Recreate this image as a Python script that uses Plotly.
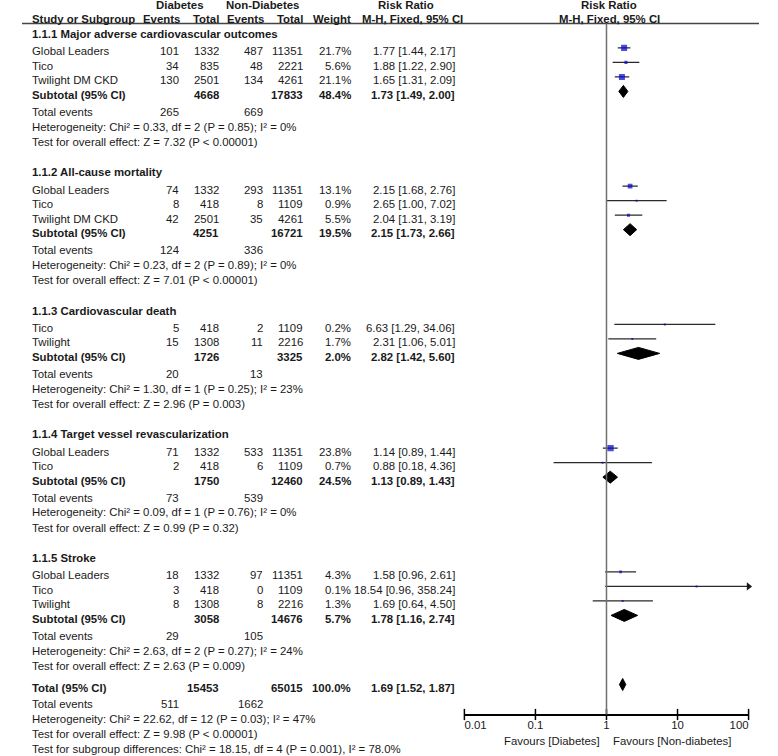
import plotly.graph_objects as go

# ---------------- data ----------------
group_titles = [
    "1.1.1 Major adverse cardiovascular outcomes",
    "1.1.2 All-cause mortality",
    "1.1.3 Cardiovascular death",
    "1.1.4 Target vessel revascularization",
    "1.1.5 Stroke",
]
study_group = [0, 0, 0, 1, 1, 1, 2, 2, 3, 3, 4, 4, 4]
study_names = ["Global Leaders", "Tico", "Twilight DM CKD",
               "Global Leaders", "Tico", "Twilight DM CKD",
               "Tico", "Twilight",
               "Global Leaders", "Tico",
               "Global Leaders", "Tico", "Twilight"]
dia_events = [101, 34, 130, 74, 8, 42, 5, 15, 71, 2, 18, 3, 8]
dia_total = [1332, 835, 2501, 1332, 418, 2501, 418, 1308, 1332, 418, 1332, 418, 1308]
non_events = [487, 48, 134, 293, 8, 35, 2, 11, 533, 6, 97, 0, 8]
non_total = [11351, 2221, 4261, 11351, 1109, 4261, 1109, 2216, 11351, 1109, 11351, 1109, 2216]
weights = [21.7, 5.6, 21.1, 13.1, 0.9, 5.5, 0.2, 1.7, 23.8, 0.7, 4.3, 0.1, 1.3]
rr = [1.77, 1.88, 1.65, 2.15, 2.65, 2.04, 6.63, 2.31, 1.14, 0.88, 1.58, 18.54, 1.69]
rr_lo = [1.44, 1.22, 1.31, 1.68, 1.00, 1.31, 1.29, 1.06, 0.89, 0.18, 0.96, 0.96, 0.64]
rr_hi = [2.17, 2.90, 2.09, 2.76, 7.02, 3.19, 34.06, 5.01, 1.44, 4.36, 2.61, 358.24, 4.50]

sub_dia_total = [4668, 4251, 1726, 1750, 3058]
sub_non_total = [17833, 16721, 3325, 12460, 14676]
sub_weight = [48.4, 19.5, 2.0, 24.5, 5.7]
sub_rr = [1.73, 2.15, 2.82, 1.13, 1.78]
sub_lo = [1.49, 1.73, 1.42, 0.89, 1.16]
sub_hi = [2.00, 2.66, 5.60, 1.43, 2.74]
sub_dia_events = [265, 124, 20, 73, 29]
sub_non_events = [669, 336, 13, 539, 105]
sub_het = [
    "Heterogeneity: Chi² = 0.33, df = 2 (P = 0.85); I² = 0%",
    "Heterogeneity: Chi² = 0.23, df = 2 (P = 0.89); I² = 0%",
    "Heterogeneity: Chi² = 1.30, df = 1 (P = 0.25); I² = 23%",
    "Heterogeneity: Chi² = 0.09, df = 1 (P = 0.76); I² = 0%",
    "Heterogeneity: Chi² = 2.63, df = 2 (P = 0.27); I² = 24%",
]
sub_test = [
    "Test for overall effect: Z = 7.32 (P < 0.00001)",
    "Test for overall effect: Z = 7.01 (P < 0.00001)",
    "Test for overall effect: Z = 2.96 (P = 0.003)",
    "Test for overall effect: Z = 0.99 (P = 0.32)",
    "Test for overall effect: Z = 2.63 (P = 0.009)",
]

total_dia_total = 15453
total_non_total = 65015
total_weight = 100.0
total_rr = 1.69
total_lo = 1.52
total_hi = 1.87
total_dia_events = 511
total_non_events = 1662
total_het = "Heterogeneity: Chi² = 22.62, df = 12 (P = 0.03); I² = 47%"
total_test = "Test for overall effect: Z = 9.98 (P < 0.00001)"
subgroup_test = "Test for subgroup differences: Chi² = 18.15, df = 4 (P = 0.001), I² = 78.0%"

tick_vals = [0.01, 0.1, 1, 10, 100]
tick_text = ["0.01", "0.1", "1", "10", "100"]

# ---------------- layout geometry (pixels) ----------------
W, H = 778, 756
FONT = "Liberation Sans, Arial, sans-serif"
FS = 11.4
TXT = "#1a1a1a"
X_LABEL = 9
X_DEV, X_DTOT, X_NEV, X_NTOT, X_W, X_RR = 167, 208.5, 255, 298, 348, 458.5
PLOT_L, PLOT_R = 467, 767
AXIS_Y = 714.5
HEAD_LINE_Y = 23.5
MARK_DY = -3.5  # forest marks sit slightly above the text centre line

# row spacing
A_HEAD, B_ROW, C_SUB, D_TE, E_HET, F_GAP, G_TOT = 17.4, 14.5, 16.9, 14.7, 15.5, 30.25, 22

annotations = []


def px(x):
    return x / W


def txt(x, y, s, anchor="left", bold=False, size=FS, color=TXT):
    annotations.append(dict(
        x=px(x), xref="paper", y=y, yref="y", text=(f"<b>{s}</b>" if bold else s),
        showarrow=False, xanchor=anchor, yanchor="middle",
        font=dict(family=FONT, size=size, color=color), borderpad=0,
    ))


def rr_str(r, lo, hi):
    return f"{r:.2f} [{lo:.2f}, {hi:.2f}]"


# header
txt(166, 5, "Diabetes", "center", True)
txt(254, 5, "Non-Diabetes", "center", True)
txt(405, 5, "Risk Ratio", "center", True)
txt(620, 5, "Risk Ratio", "center", True)
hy = 18.5
txt(X_LABEL, hy, "Study or Subgroup", "left", True)
txt(X_DEV + 1, hy, "Events", "right", True)
txt(X_DTOT + 0.5, hy, "Total", "right", True)
txt(X_NEV + 1, hy, "Events", "right", True)
txt(X_NTOT, hy, "Total", "right", True)
txt(X_W, hy, "Weight", "right", True)
txt(412, hy, "M-H, Fixed, 95% CI", "center", True)
txt(620, hy, "M-H, Fixed, 95% CI", "center", True)

study_y = [None] * len(study_names)
sub_y = []
y = 34
for g, title in enumerate(group_titles):
    txt(X_LABEL, y, title, "left", True)
    y += A_HEAD
    idx = [i for i, sg in enumerate(study_group) if sg == g]
    for k, i in enumerate(idx):
        if k > 0:
            y += B_ROW
        study_y[i] = y
        txt(X_LABEL, y, study_names[i])
        txt(X_DEV, y, str(dia_events[i]), "right")
        txt(X_DTOT, y, str(dia_total[i]), "right")
        txt(X_NEV, y, str(non_events[i]), "right")
        txt(X_NTOT, y, str(non_total[i]), "right")
        txt(X_W, y, f"{weights[i]:.1f}%", "right")
        txt(X_RR, y, rr_str(rr[i], rr_lo[i], rr_hi[i]), "right")
    y += B_ROW
    sub_y.append(y)
    txt(X_LABEL, y, "Subtotal (95% CI)", "left", True)
    txt(X_DTOT, y, str(sub_dia_total[g]), "right", True)
    txt(X_NTOT, y, str(sub_non_total[g]), "right", True)
    txt(X_W, y, f"{sub_weight[g]:.1f}%", "right", True)
    txt(X_RR, y, rr_str(sub_rr[g], sub_lo[g], sub_hi[g]), "right", True)
    y += C_SUB
    txt(X_LABEL, y, "Total events")
    txt(X_DEV, y, str(sub_dia_events[g]), "right")
    txt(X_NEV, y, str(sub_non_events[g]), "right")
    y += D_TE
    txt(X_LABEL, y, sub_het[g])
    y += E_HET
    txt(X_LABEL, y, sub_test[g])
    if g < len(group_titles) - 1:
        y += F_GAP

y += G_TOT
tot_y = y
txt(X_LABEL, y, "Total (95% CI)", "left", True)
txt(X_DTOT, y, str(total_dia_total), "right", True)
txt(X_NTOT, y, str(total_non_total), "right", True)
txt(X_W, y, f"{total_weight:.1f}%", "right", True)
txt(X_RR, y, rr_str(total_rr, total_lo, total_hi), "right", True)
y += 16
txt(X_LABEL, y, "Total events")
txt(X_DEV, y, str(total_dia_events), "right")
txt(X_NEV, y, str(total_non_events), "right")
y += 14.5
txt(X_LABEL, y, total_het)
y += 15
txt(X_LABEL, y, total_test)
y += 15
txt(X_LABEL, y, subgroup_test)

txt(611, 741, "Favours [Diabetes]", "right")
txt(623, 741, "Favours [Non-diabetes]", "left")

# ---------------- forest plot traces ----------------
fig = go.Figure()
xmin, xmax = tick_vals[0], tick_vals[-1]

mark_y = [yy + MARK_DY for yy in study_y]
ci_x, ci_y, arrow_x, arrow_y = [], [], [], []
for i in range(len(rr)):
    lo = max(rr_lo[i], xmin)
    hi = min(rr_hi[i], xmax)
    ci_x += [lo, hi, None]
    ci_y += [mark_y[i], mark_y[i], None]
    if rr_hi[i] > xmax:
        arrow_x.append(xmax)
        arrow_y.append(mark_y[i])

fig.add_trace(go.Scatter(x=ci_x, y=ci_y, mode="lines",
                         line=dict(color="#2a2a2a", width=1.3),
                         hoverinfo="skip", showlegend=False, cliponaxis=False))
fig.add_trace(go.Scatter(x=arrow_x, y=arrow_y, mode="markers",
                         marker=dict(symbol="triangle-right", size=7, color="#1a1a1a"),
                         hoverinfo="skip", showlegend=False, cliponaxis=False))
fig.add_trace(go.Scatter(x=rr, y=mark_y, mode="markers",
                         marker=dict(symbol="square",
                                     size=[max(2.0, 1.3 * w ** 0.5) for w in weights],
                                     color="#0000d0", line=dict(width=0)),
                         hoverinfo="skip", showlegend=False))

DH = 6
for r, lo, hi, yy in list(zip(sub_rr, sub_lo, sub_hi, sub_y)) + [(total_rr, total_lo, total_hi, tot_y)]:
    yc = yy + MARK_DY
    fig.add_trace(go.Scatter(x=[lo, r, hi, r, lo], y=[yc, yc - DH, yc, yc + DH, yc],
                             mode="lines", fill="toself", fillcolor="#000000",
                             line=dict(color="#000000", width=1),
                             hoverinfo="skip", showlegend=False))

# tick marks crossing the axis line
fig.add_trace(go.Scatter(x=tick_vals, y=[AXIS_Y] * len(tick_vals), mode="markers",
                         marker=dict(symbol="line-ns", size=8,
                                     line=dict(color="#000000", width=1.5)),
                         hoverinfo="skip", showlegend=False, cliponaxis=False))

shapes = [
    dict(type="line", xref="paper", yref="y", x0=0, x1=1, y0=HEAD_LINE_Y, y1=HEAD_LINE_Y,
         line=dict(color="#444444", width=1.4)),
    dict(type="line", xref="x", yref="y", x0=1, x1=1, y0=HEAD_LINE_Y, y1=AXIS_Y,
         line=dict(color="#707070", width=1.5)),
]

# end labels sit inside the axis span (left-aligned at 0.01, right-aligned at 100)
NB = "\u00a0"
tick_labels = [NB * 7 + tick_text[0]] + tick_text[1:-1] + [tick_text[-1] + NB * 6]

fig.update_layout(
    width=W, height=H, margin=dict(l=0, r=0, t=0, b=0),
    paper_bgcolor="white", plot_bgcolor="rgba(0,0,0,0)",
    xaxis=dict(type="log", domain=[PLOT_L / W, PLOT_R / W], range=[-2, 2],
               anchor="free", position=1 - AXIS_Y / H,
               showline=True, linecolor="#000000", linewidth=1.5,
               showgrid=False, zeroline=False, ticks="",
               tickvals=tick_vals, ticktext=tick_labels, ticklabelstandoff=0,
               ticklabeloverflow="allow",
               tickfont=dict(family=FONT, size=FS, color=TXT)),
    yaxis=dict(domain=[0, 1], range=[H, 0], visible=False, showgrid=False),
    annotations=annotations,
    shapes=shapes,
)

fig.write_html("out.html", config={"displayModeBar": False},
               post_script="document.body.style.margin='0px';")
